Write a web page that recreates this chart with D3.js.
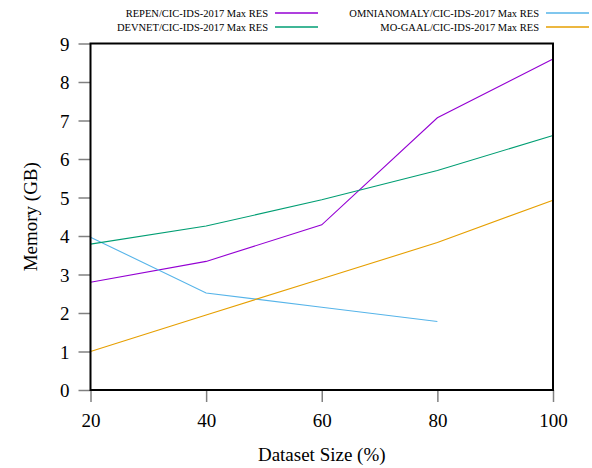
<!DOCTYPE html>
<html>
<head>
<meta charset="utf-8">
<script src="https://cdn.jsdelivr.net/npm/d3@7"></script>
<style>
  body { margin: 0; background: #fff; }
  text { font-family: "Liberation Serif", "Times New Roman", serif; fill: #000; }
</style>
</head>
<body>
<div id="chart-area"></div>
<script>
// dataset sizes (%)
var sizes = [20, 40, 60, 80, 100];

// memory in GB
var repen    = [2.80, 3.34, 4.29, 7.07, 8.60];
var devnet   = [3.79, 4.26, 4.94, 5.70, 6.61];
var omni     = [3.97, 2.52, 2.15, 1.78];
var mogaal   = [1.00, 1.95, 2.89, 3.83, 4.93];

var xTicks = [20, 40, 60, 80, 100];
var yTicks = [0, 1, 2, 3, 4, 5, 6, 7, 8, 9];

var series = [
    {name: "REPEN/CIC-IDS-2017 Max RES",       values: repen,  color: "#9400d3"},
    {name: "OMNIANOMALY/CIC-IDS-2017 Max RES", values: omni,   color: "#56b4e9"},
    {name: "DEVNET/CIC-IDS-2017 Max RES",      values: devnet, color: "#009e73"},
    {name: "MO-GAAL/CIC-IDS-2017 Max RES",     values: mogaal, color: "#e69f00"}
];

var W = 592, H = 468;
// plot box edges ("top" is taken by window.top, so use other names)
var pL = 90.5, pR = 553, pT = 43.5, pB = 390;

var svg = d3.select("#chart-area").append("svg")
    .attr("width", W)
    .attr("height", H);

var x = d3.scaleLinear().domain([20, 100]).range([pL, pR]);
var y = d3.scaleLinear().domain([0, 9]).range([pB, pT]);

// axes (outward gray ticks)
var xAxis = svg.append("g")
    .attr("transform", "translate(0," + pB + ")")
    .call(d3.axisBottom(x).tickValues(xTicks).tickSize(12).tickPadding(12).tickFormat(d3.format("d")));
var yAxis = svg.append("g")
    .attr("transform", "translate(" + pL + ",0)")
    .call(d3.axisLeft(y).tickValues(yTicks).tickSize(12).tickPadding(9).tickFormat(d3.format("d")));

[xAxis, yAxis].forEach(function(g) {
    g.select(".domain").remove();
    g.selectAll(".tick line").attr("stroke", "#808080").attr("stroke-width", 1.5);
    g.selectAll(".tick text")
        .attr("font-family", "Liberation Serif, serif")
        .attr("font-size", "19px")
        .attr("fill", "#000");
});
yAxis.selectAll(".tick text").attr("dy", "0.35em");

// lines
var line = d3.line()
    .x(function(d, i) { return x(sizes[i]); })
    .y(function(d) { return y(d); });

series.forEach(function(s) {
    svg.append("path")
        .datum(s.values)
        .attr("fill", "none")
        .attr("stroke", s.color)
        .attr("stroke-width", 1.1)
        .attr("d", line);
});

// border
svg.append("rect")
    .attr("x", pL)
    .attr("y", pT)
    .attr("width", pR - pL)
    .attr("height", pB - pT)
    .attr("fill", "none")
    .attr("stroke", "#000")
    .attr("stroke-width", 2);

// axis labels
svg.append("text")
    .attr("x", (pL + pR) / 2)
    .attr("y", 461)
    .attr("text-anchor", "middle")
    .attr("font-size", "19px")
    .text("Dataset Size (%)");

svg.append("text")
    .attr("transform", "translate(30," + ((pT + pB) / 2) + ") rotate(-90)")
    .attr("text-anchor", "middle")
    .attr("dy", "0.35em")
    .attr("font-size", "19px")
    .text("Memory (GB)");

// legend, two columns
var legendPos = [
    {tx: 268, y: 13}, {tx: 539, y: 13},
    {tx: 268, y: 27}, {tx: 539, y: 27}
];
series.forEach(function(s, i) {
    var p = legendPos[i];
    svg.append("text")
        .attr("x", p.tx)
        .attr("y", p.y)
        .attr("dy", "0.35em")
        .attr("text-anchor", "end")
        .attr("font-size", "10.5px")
        .text(s.name);
    svg.append("line")
        .attr("x1", p.tx + 7)
        .attr("x2", p.tx + 50)
        .attr("y1", p.y)
        .attr("y2", p.y)
        .attr("stroke", s.color)
        .attr("stroke-width", 1.3);
});
</script>
</body>
</html>
